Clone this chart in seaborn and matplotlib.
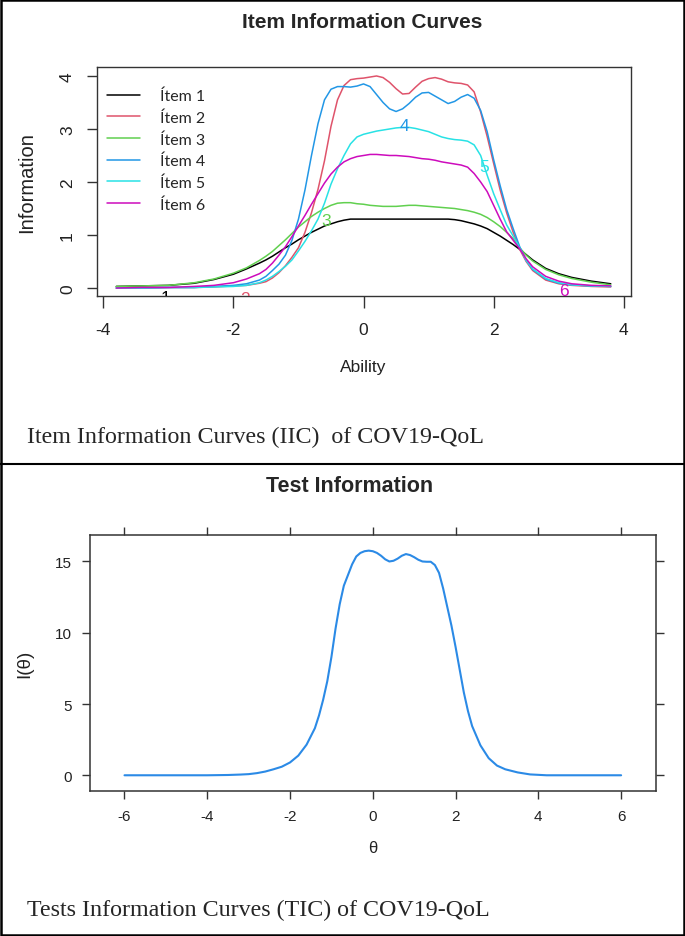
import numpy as np
import pandas as pd
import matplotlib
matplotlib.use("Agg")
import matplotlib.pyplot as plt
from matplotlib.lines import Line2D
from matplotlib.patches import Rectangle
import seaborn as sns

sns.set_style("ticks")
plt.rcParams['font.family'] = ['Liberation Sans', 'DejaVu Sans']
plt.rcParams['axes.unicode_minus'] = False

# ability grid for the item curves
theta = [-3.8, -3.4, -3.0, -2.6, -2.3, -2.0, -1.8,
         -1.6, -1.5, -1.4, -1.3, -1.2, -1.1, -1.0, -0.9, -0.8, -0.7, -0.6, -0.5, -0.4, -0.3, -0.2, -0.1, 0.0,
         0.1, 0.2, 0.3, 0.4, 0.5, 0.6, 0.7, 0.8, 0.9, 1.0, 1.1, 1.2, 1.3, 1.4, 1.5, 1.6, 1.7, 1.8, 1.9, 2.0,
         2.1, 2.2, 2.3, 2.4, 2.5, 2.6,
         2.8, 3.0, 3.2, 3.5, 3.8]

item1 = [0.03, 0.04, 0.05, 0.09, 0.16, 0.26, 0.36,
         0.47, 0.53, 0.60, 0.68, 0.76, 0.83, 0.91, 0.98, 1.05, 1.11, 1.17, 1.21, 1.25, 1.28, 1.30, 1.30, 1.30,
         1.30, 1.30, 1.30, 1.30, 1.30, 1.30, 1.30, 1.30, 1.30, 1.30, 1.30, 1.30, 1.30, 1.29, 1.27, 1.24, 1.21, 1.17, 1.12, 1.05,
         0.98, 0.90, 0.82, 0.73, 0.63, 0.53,
         0.37, 0.27, 0.20, 0.13, 0.08]
item2 = [0.00, 0.00, 0.01, 0.01, 0.02, 0.04, 0.05,
         0.09, 0.12, 0.19, 0.29, 0.42, 0.58, 0.76, 1.05, 1.42, 1.86, 2.40, 3.05, 3.55, 3.82, 3.93, 3.95, 3.96,
         3.98, 4.00, 3.97, 3.88, 3.76, 3.66, 3.67, 3.79, 3.90, 3.95, 3.97, 3.94, 3.89, 3.87, 3.86, 3.83, 3.70, 3.32, 2.86, 2.35,
         1.85, 1.42, 1.05, 0.73, 0.50, 0.33,
         0.15, 0.08, 0.05, 0.03, 0.02]
item3 = [0.03, 0.04, 0.05, 0.10, 0.17, 0.28, 0.38,
         0.52, 0.60, 0.69, 0.80, 0.91, 1.03, 1.15, 1.25, 1.35, 1.43, 1.50, 1.56, 1.60, 1.61, 1.61, 1.59, 1.58,
         1.56, 1.55, 1.54, 1.54, 1.54, 1.55, 1.56, 1.56, 1.55, 1.54, 1.53, 1.52, 1.51, 1.50, 1.48, 1.46, 1.43, 1.39, 1.33, 1.25,
         1.16, 1.05, 0.93, 0.76, 0.62, 0.51,
         0.35, 0.25, 0.18, 0.11, 0.06]
item4 = [0.00, 0.00, 0.01, 0.01, 0.03, 0.05, 0.08,
         0.15, 0.22, 0.33, 0.45, 0.62, 0.90, 1.30, 1.85, 2.50, 3.10, 3.55, 3.75, 3.80, 3.80, 3.79, 3.81, 3.85,
         3.80, 3.65, 3.50, 3.38, 3.33, 3.38, 3.48, 3.60, 3.68, 3.69, 3.62, 3.55, 3.48, 3.52, 3.60, 3.65, 3.58, 3.35, 2.95, 2.42,
         1.93, 1.48, 1.12, 0.78, 0.52, 0.35,
         0.17, 0.09, 0.06, 0.04, 0.03]
item5 = [0.00, 0.00, 0.01, 0.01, 0.02, 0.03, 0.05,
         0.10, 0.15, 0.22, 0.31, 0.41, 0.53, 0.70, 0.88, 1.08, 1.30, 1.60, 1.96, 2.25, 2.50, 2.72, 2.85, 2.90,
         2.93, 2.96, 2.98, 3.00, 3.02, 3.03, 3.03, 3.01, 2.98, 2.95, 2.90, 2.85, 2.82, 2.80, 2.79, 2.77, 2.70, 2.50, 2.13, 1.78,
         1.48, 1.19, 0.98, 0.76, 0.52, 0.36,
         0.18, 0.10, 0.06, 0.04, 0.03]
item6 = [0.00, 0.01, 0.01, 0.03, 0.05, 0.10, 0.17,
         0.27, 0.35, 0.47, 0.62, 0.78, 0.97, 1.17, 1.37, 1.58, 1.78, 1.98, 2.15, 2.28, 2.38, 2.44, 2.48, 2.50,
         2.52, 2.52, 2.51, 2.50, 2.50, 2.49, 2.48, 2.46, 2.44, 2.43, 2.41, 2.38, 2.36, 2.34, 2.32, 2.28, 2.16, 2.00, 1.82, 1.56,
         1.30, 1.06, 0.90, 0.74, 0.55, 0.40,
         0.22, 0.13, 0.08, 0.05, 0.04]

item_names = ["Ítem 1", "Ítem 2", "Ítem 3", "Ítem 4", "Ítem 5", "Ítem 6"]
item_colors = ["#000000", "#DF536B", "#61D04F", "#2297E6", "#28E2E5", "#CD0BBC"]
# curve number labels (x, y) as placed by plot()
label_x = [-3.05, -1.82, -0.58, 0.63, 1.85, 3.08]
label_y = [-0.18, -0.19, 1.28, 3.07, 2.30, -0.05]

# test information curve
test_theta = [-6.0, -5.0, -4.0, -3.5, -3.2, -3.0, -2.8, -2.6, -2.4, -2.2,
              -2.0, -1.8, -1.6, -1.4, -1.3, -1.2, -1.1, -1.0, -0.9, -0.8,
              -0.7, -0.6, -0.5, -0.4, -0.3, -0.2, -0.1, 0.0,
              0.1, 0.2, 0.3, 0.4, 0.5, 0.6, 0.7, 0.8, 0.9, 1.0, 1.1, 1.2,
              1.3, 1.4, 1.5, 1.6, 1.7, 1.8, 1.9, 2.0, 2.1, 2.2, 2.3, 2.4,
              2.6, 2.8, 3.0, 3.2, 3.5, 3.8, 4.2, 5.0, 6.0]
test_info = [0.0, 0.0, 0.0, 0.02, 0.05, 0.08, 0.15, 0.26, 0.42, 0.60,
             0.90, 1.38, 2.15, 3.3, 4.2, 5.3, 6.6, 8.3, 10.3, 12.0,
             13.3, 14.05, 14.8, 15.35, 15.6, 15.72, 15.76, 15.72,
             15.6, 15.4, 15.15, 15.0, 15.05, 15.2, 15.4, 15.52, 15.45, 15.3, 15.12, 15.0,
             14.98, 14.98, 14.75, 14.2, 13.1, 11.8, 10.5, 9.0, 7.4, 5.8, 4.5, 3.45,
             2.1, 1.2, 0.68, 0.42, 0.2, 0.06, 0.0, 0.0, 0.0]

iic = pd.DataFrame({
    "Ability": np.tile(theta, len(item_names)),
    "Information": np.concatenate([item1, item2, item3, item4, item5, item6]),
    "Item": np.repeat(item_names, len(theta)),
})
tic = pd.DataFrame({"theta": test_theta, "info": test_info})

fig = plt.figure(figsize=(6.85, 9.37), dpi=100)
spine_col = "#333333"

# ---- top panel: item information curves ----
ax1 = fig.add_axes([0.1409, 0.6825, 0.7796, 0.2444])
sns.lineplot(data=iic, x="Ability", y="Information", hue="Item",
             palette=dict(zip(item_names, item_colors)), estimator=None,
             sort=False, lw=1.1, ax=ax1)
ax1.set_xlim(-4.104, 4.104)
ax1.set_ylim(-0.16, 4.16)
ax1.set_xticks([-4, -2, 0, 2, 4])
ax1.set_yticks([0, 1, 2, 3, 4])
ax1.set_yticklabels(["0", "1", "2", "3", "4"], rotation=90, va="center")
ax1.tick_params(axis="x", direction="out", length=8.5, width=1, colors=spine_col,
                labelcolor="#222222", labelsize=12.5, pad=10)
ax1.tick_params(axis="y", direction="out", length=7.5, width=1, colors=spine_col,
                labelcolor="#222222", labelsize=12.5, pad=8)
for s in ax1.spines.values():
    s.set_color(spine_col)
    s.set_linewidth(1.0)

ax1.set_xlabel("Ability", fontsize=12.5, color="#222222")
ax1.xaxis.set_label_coords(0.5, -0.306)
ax1.xaxis.label.set_va("center")
ax1.set_ylabel("Information", fontsize=14.5, color="#222222")
ax1.yaxis.set_label_coords(-0.131, 0.5)
ax1.yaxis.label.set_va("center")

for i in range(len(item_names)):
    ax1.text(label_x[i], label_y[i], str(i + 1), color=item_colors[i], fontsize=12.5,
             ha="center", va="center", clip_on=True)

handles, labels = ax1.get_legend_handles_labels()
ax1.legend(handles, labels, loc="upper left", bbox_to_anchor=(0.019, 0.907),
           frameon=False, borderpad=0, borderaxespad=0, handlelength=2.1,
           handletextpad=1.25, labelspacing=0.45,
           prop={"family": ["Lato", "DejaVu Sans"], "size": 11.5})

fig.text(0.5294, 0.9765, "Item Information Curves", ha="center", va="center",
         fontsize=15, fontweight="bold")
fig.text(0.0394, 0.5336, "Item Information Curves (IIC)  of COV19-QoL",
         ha="left", va="center", fontsize=17.3,
         family=["Liberation Serif", "DejaVu Serif"])

# ---- bottom panel: test information ----
ax2 = fig.add_axes([0.131, 0.1548, 0.8265, 0.2732])
sns.lineplot(data=tic, x="theta", y="info", estimator=None, sort=False,
             color="#2b8ae6", lw=1.5, ax=ax2)
ax2.set_xlim(-6.84, 6.84)
ax2.set_ylim(-1.10, 16.86)
ax2.set_xticks([-6, -4, -2, 0, 2, 4, 6])
ax2.set_yticks([0, 5, 10, 15])
ax2.tick_params(direction="out", length=6, width=1, colors=spine_col,
                labelcolor="#222222", labelsize=11, pad=7,
                top=True, right=True, labeltop=False, labelright=False)
for s in ax2.spines.values():
    s.set_color(spine_col)
    s.set_linewidth(1.1)

ax2.set_xlabel("θ", fontsize=12, color="#222222")
ax2.xaxis.set_label_coords(0.5, -0.219)
ax2.xaxis.label.set_va("center")
ax2.set_ylabel("I(θ)", fontsize=13.5, color="#222222")
ax2.yaxis.set_label_coords(-0.115, 0.5)
ax2.yaxis.label.set_va("center")

fig.text(0.511, 0.4813, "Test Information", ha="center", va="center",
         fontsize=15.5, fontweight="bold")
fig.text(0.0394, 0.0288, "Tests Information Curves (TIC) of COV19-QoL",
         ha="left", va="center", fontsize=17.3,
         family=["Liberation Serif", "DejaVu Serif"])

# frame and divider between the two figures
fig.add_artist(Line2D([0, 1], [0.5037, 0.5037], color="black", lw=1.5,
                      transform=fig.transFigure))
fig.add_artist(Rectangle((0.001, 0.001), 0.997, 0.998, fill=False, lw=1.8,
                         edgecolor="black", transform=fig.transFigure))

fig.savefig("out.png", dpi=100)
